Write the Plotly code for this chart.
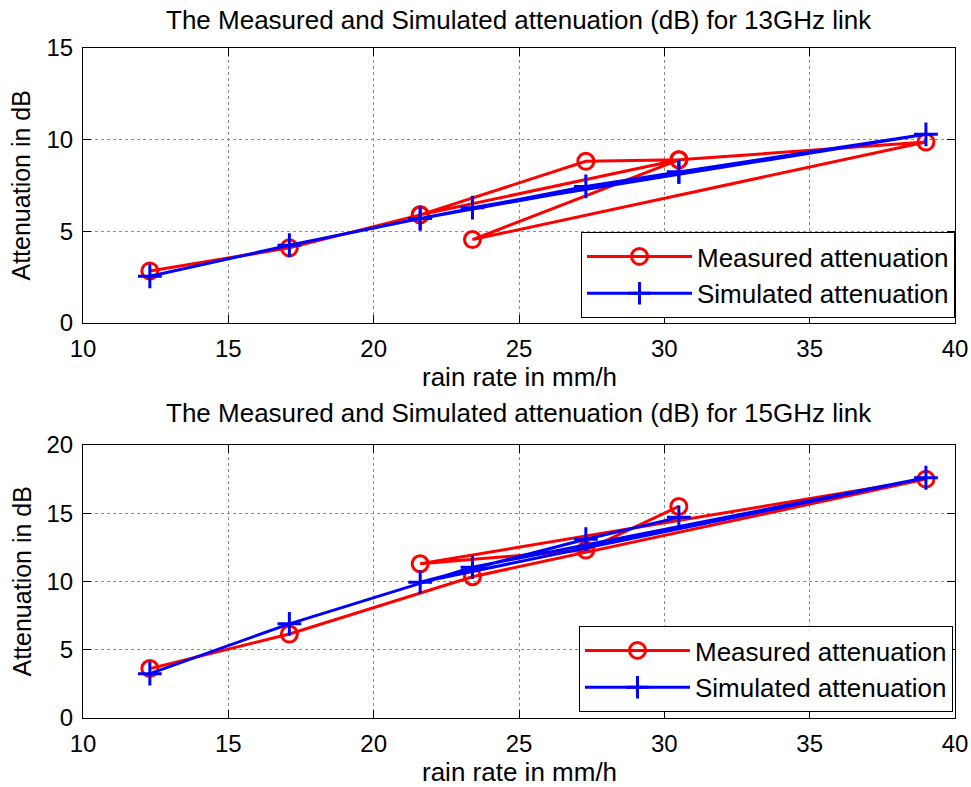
import plotly.graph_objects as go

# ---- data ----
rain_13 = [12.3, 17.1, 21.6, 27.3, 30.5, 39.0, 23.4, 30.5, 21.6]
meas_13 = [2.84, 4.1, 5.9, 8.82, 8.9, 9.87, 4.55, 8.9, 5.9]
sim_13 = [2.55, 4.24, 5.7, 7.45, 8.24, 10.29, 6.29, 8.24, 5.7]

rain_15 = [12.3, 17.1, 23.4, 39.0, 21.6, 27.3, 30.5]
meas_15 = [3.62, 6.15, 10.35, 17.5, 11.3, 12.3, 15.5]
sim_15 = [3.25, 6.9, 11.05, 17.6, 9.95, 13.1, 14.7]

x_ticks = [10, 15, 20, 25, 30, 35, 40]
y_ticks_13 = [0, 5, 10, 15]
y_ticks_15 = [0, 5, 10, 15, 20]

titles = ["The Measured and Simulated attenuation (dB) for 13GHz link",
          "The Measured and Simulated attenuation (dB) for 15GHz link"]
x_label = "rain rate in mm/h"
y_label = "Attenuation in dB"
names = ["Measured attenuation", "Simulated attenuation"]

FONT = "Liberation Sans, Arial, sans-serif"

fig = go.Figure()

def add_pair(x, m, s, xa, ya, leg):
    fig.add_trace(go.Scatter(x=x, y=m, mode="lines+markers", name=names[0],
                             line=dict(color="#ff0000", width=3),
                             marker=dict(symbol="circle-open", size=16, color="#ff0000",
                                         line=dict(width=3, color="#ff0000")),
                             xaxis=xa, yaxis=ya, legend=leg))
    fig.add_trace(go.Scatter(x=x, y=s, mode="lines+markers", name=names[1],
                             line=dict(color="#0000ff", width=3),
                             marker=dict(symbol="cross-thin-open", size=17, color="#0000ff",
                                         line=dict(width=3, color="#0000ff")),
                             xaxis=xa, yaxis=ya, legend=leg))

add_pair(rain_13, meas_13, sim_13, "x", "y", "legend")
add_pair(rain_15, meas_15, sim_15, "x2", "y2", "legend2")

W, H = 971, 787
xl, xr = 83, 955
top_t, top_b = 48, 323
bot_t, bot_b = 445, 718

axis_common = dict(showline=True, linecolor="black", linewidth=1, mirror="ticks",
                   ticks="inside", ticklen=8, tickcolor="black", automargin=False,
                   showgrid=True, gridcolor="#8c8c8c", griddash="dot", gridwidth=1,
                   zeroline=False, tickfont=dict(family=FONT, size=24, color="black"))

def fy(py):
    return 1 - py / H

ann = []
for t, ty in zip(titles, [20, 413]):
    ann.append(dict(text=t, x=(xl + xr) / 2 / W, y=fy(ty), xref="paper", yref="paper",
                    showarrow=False, font=dict(family=FONT, size=26, color="black"),
                    xanchor="center", yanchor="middle"))
for ty in [377, 772]:
    ann.append(dict(text=x_label, x=(xl + xr) / 2 / W, y=fy(ty), xref="paper", yref="paper",
                    showarrow=False, font=dict(family=FONT, size=26, color="black"),
                    xanchor="center", yanchor="middle"))
for ty in [(top_t + top_b) / 2, (bot_t + bot_b) / 2]:
    ann.append(dict(text=y_label, x=21 / W, y=fy(ty), xref="paper", yref="paper",
                    showarrow=False, textangle=-90,
                    font=dict(family=FONT, size=25, color="black"),
                    xanchor="center", yanchor="middle"))

fig.update_layout(
    width=W, height=H, margin=dict(l=0, r=0, t=0, b=0),
    paper_bgcolor="white", plot_bgcolor="white",
    font=dict(family=FONT, color="black"),
    xaxis=dict(domain=[xl / W, xr / W], range=[10, 40], tickvals=x_ticks, anchor="y",
               ticklabelstandoff=4, **axis_common),
    yaxis=dict(domain=[fy(top_b), fy(top_t)], range=[0, 15], tickvals=y_ticks_13,
               anchor="x", ticklabelstandoff=4, **axis_common),
    xaxis2=dict(domain=[xl / W, xr / W], range=[10, 40], tickvals=x_ticks, anchor="y2",
                ticklabelstandoff=4, **axis_common),
    yaxis2=dict(domain=[fy(bot_b), fy(bot_t)], range=[0, 20], tickvals=y_ticks_15,
                anchor="x2", ticklabelstandoff=4, **axis_common),
    legend=dict(x=xr / W, y=fy(318), xanchor="right", yanchor="bottom",
                bgcolor="white", bordercolor="black", borderwidth=1, itemwidth=105,
                font=dict(family=FONT, size=26, color="black")),
    legend2=dict(x=953 / W, y=fy(712), xanchor="right", yanchor="bottom",
                 bgcolor="white", bordercolor="black", borderwidth=1, itemwidth=105,
                 font=dict(family=FONT, size=26, color="black")),
    showlegend=True,
    annotations=ann,
)

fig.write_html("out.html")
